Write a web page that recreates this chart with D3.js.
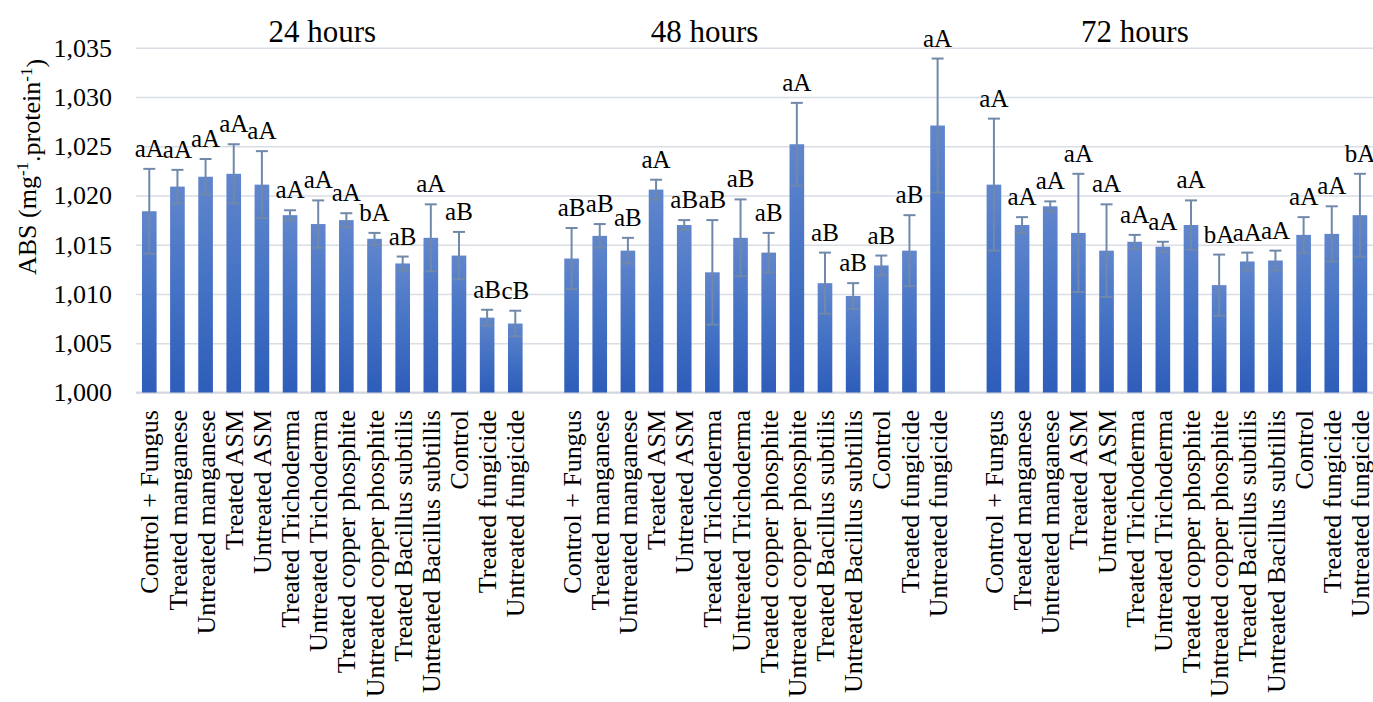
<!DOCTYPE html>
<html>
<head>
<meta charset="utf-8">
<script src="https://cdn.jsdelivr.net/npm/d3@7"></script>
<style>
  body { margin: 0; background: #fff; }
  svg { display: block; }
  svg text { font-family: "Liberation Serif", "Times New Roman", Tinos, "DejaVu Serif", serif; }
</style>
</head>
<body>
<svg width="1373" height="702"></svg>
<script>
const hours = ['24 hours', '48 hours', '72 hours'];
const treatments = [
  'Control + Fungus', 'Treated manganese', 'Untreated manganese', 'Treated ASM',
  'Untreated ASM', 'Treated Trichoderma', 'Untreated Trichoderma',
  'Treated copper phosphite', 'Untreated copper phosphite', 'Treated Bacillus subtilis',
  'Untreated Bacillus subtillis', 'Control', 'Treated fungicide', 'Untreated fungicide'
];

const values24 = [1.0184, 1.0209, 1.0219, 1.0222, 1.0211, 1.0180, 1.0171, 1.0175, 1.0156, 1.0131, 1.0157, 1.0139, 1.0076, 1.0070];
const errors24 = [0.0043, 0.0017, 0.0018, 0.0030, 0.0034, 0.0005, 0.0024, 0.0007, 0.0006, 0.0007, 0.0034, 0.0024, 0.0008, 0.0013];
const letters24 = ['aA', 'aA', 'aA', 'aA', 'aA', 'aA', 'aA', 'aA', 'bA', 'aB', 'aA', 'aB', 'aB', 'cB'];

const values48 = [1.0136, 1.0159, 1.0144, 1.0206, 1.0170, 1.0122, 1.0157, 1.0142, 1.0252, 1.0111, 1.0098, 1.0129, 1.0144, 1.0271];
const errors48 = [0.0031, 0.0012, 0.0013, 0.0010, 0.0005, 0.0053, 0.0039, 0.0020, 0.0042, 0.0031, 0.0013, 0.0010, 0.0036, 0.0068];
const letters48 = ['aB', 'aB', 'aB', 'aA', 'aB', 'aB', 'aB', 'aB', 'aA', 'aB', 'aB', 'aB', 'aB', 'aA'];

const values72 = [1.0211, 1.0170, 1.0189, 1.0162, 1.0144, 1.0153, 1.0148, 1.0170, 1.0109, 1.0133, 1.0134, 1.0160, 1.0161, 1.0180];
const errors72 = [0.0067, 0.0008, 0.0005, 0.0060, 0.0047, 0.0007, 0.0005, 0.0025, 0.0031, 0.0009, 0.0010, 0.0018, 0.0028, 0.0042];
const letters72 = ['aA', 'aA', 'aA', 'aA', 'aA', 'aA', 'aA', 'aA', 'bA', 'aA', 'aA', 'aA', 'aA', 'bA'];

const yTicks = [1.000, 1.005, 1.010, 1.015, 1.020, 1.025, 1.030, 1.035];

const svg = d3.select('svg');

// flatten groups, with one empty slot between groups (like the Excel sheet)
const groups = [
  { values: values24, errors: errors24, letters: letters24 },
  { values: values48, errors: errors48, letters: letters48 },
  { values: values72, errors: errors72, letters: letters72 }
];
const slots = [];
const data = [];
groups.forEach((g, gi) => {
  if (gi > 0) slots.push('gap' + gi);
  treatments.forEach((t, i) => {
    const key = gi + '|' + i;
    slots.push(key);
    data.push({ key, group: gi, name: t, value: g.values[i], err: g.errors[i], letter: g.letters[i] });
  });
});

const xScale = d3.scaleBand()
  .domain(slots)
  .range([135.2, 1374])
  .paddingInner(0.48)
  .paddingOuter(0.24);

const yScale = d3.scaleLinear()
  .domain([1.000, 1.035])
  .range([392.5, 47.7]);

const locale = d3.formatLocale({ decimal: ',', thousands: '.', grouping: [3], currency: ['', ''] });
const fmt = locale.format('.3f');

const defs = svg.append('defs');
const grad = defs.append('linearGradient')
  .attr('id', 'barGrad')
  .attr('x1', 0).attr('y1', 0).attr('x2', 0).attr('y2', 1);
grad.append('stop').attr('offset', '0%').attr('stop-color', '#6186cd');
grad.append('stop').attr('offset', '50%').attr('stop-color', '#4472c4');
grad.append('stop').attr('offset', '100%').attr('stop-color', '#2e5dba');

// gridlines
const yAxis = d3.axisLeft(yScale)
  .tickValues(yTicks)
  .tickSize(-(1373 - 136))
  .tickPadding(24)
  .tickFormat(fmt);

const yAxisG = svg.append('g')
  .attr('transform', 'translate(136,0)')
  .call(yAxis)
  .attr('font-family', null);
yAxisG.select('.domain').remove();
yAxisG.selectAll('.tick line')
  .attr('stroke', '#d9dde4')
  .attr('stroke-width', 1.5);
yAxisG.selectAll('.tick text')
  .attr('font-size', 26)
  .attr('fill', '#000');

// baseline
svg.append('line')
  .attr('x1', 136).attr('x2', 1373)
  .attr('y1', yScale(1.000)).attr('y2', yScale(1.000))
  .attr('stroke', '#d4d8de')
  .attr('stroke-width', 2);

// bars
const bars = svg.append('g');
bars.selectAll('rect').data(data)
  .enter().append('rect')
    .attr('x', d => xScale(d.key))
    .attr('y', d => yScale(d.value))
    .attr('width', xScale.bandwidth())
    .attr('height', d => yScale(1.000) - yScale(d.value))
    .attr('fill', 'url(#barGrad)');

// error bars
const capW = 12;
const errG = svg.append('g')
  .attr('stroke', '#7089aa')
  .attr('stroke-width', 2)
  .attr('fill', 'none');
data.forEach(d => {
  const cx = xScale(d.key) + xScale.bandwidth() / 2;
  const top = yScale(d.value + d.err);
  const bot = yScale(d.value - d.err);
  errG.append('line').attr('x1', cx).attr('x2', cx).attr('y1', top).attr('y2', bot);
  errG.append('line').attr('x1', cx - capW / 2).attr('x2', cx + capW / 2).attr('y1', top).attr('y2', top);
  errG.append('line').attr('x1', cx - capW / 2).attr('x2', cx + capW / 2).attr('y1', bot).attr('y2', bot);
});

// letters above error bars
svg.append('g').selectAll('text').data(data)
  .enter().append('text')
    .attr('x', d => xScale(d.key) + xScale.bandwidth() / 2)
    .attr('y', d => yScale(d.value + d.err) - 12)
    .attr('text-anchor', 'middle')
    .attr('font-size', 25)
    .attr('fill', '#000')
    .text(d => d.letter);

// category labels
svg.append('g').selectAll('text').data(data)
  .enter().append('text')
    .attr('transform', d => `translate(${xScale(d.key) + xScale.bandwidth() / 2},410) rotate(-90)`)
    .attr('text-anchor', 'end')
    .attr('dy', '0.35em')
    .attr('font-size', 26)
    .attr('fill', '#000')
    .text(d => d.name);

// group titles
const titleShift = [-10, -50, -42];
hours.forEach((h, gi) => {
  const first = xScale(gi + '|0');
  const last = xScale(gi + '|' + (treatments.length - 1)) + xScale.bandwidth();
  svg.append('text')
    .attr('x', (first + last) / 2 + titleShift[gi])
    .attr('y', 42)
    .attr('text-anchor', 'middle')
    .attr('font-size', 31)
    .attr('fill', '#000')
    .text(h);
});

// y axis title
const yTitle = svg.append('text')
  .attr('transform', 'translate(36,167) rotate(-90)')
  .attr('text-anchor', 'middle')
  .attr('font-size', 26)
  .attr('fill', '#000');
yTitle.append('tspan').text('ABS (mg');
yTitle.append('tspan').attr('dy', '-0.45em').attr('font-size', 17).text('-1');
yTitle.append('tspan').attr('dy', '0.45em').text('.protein');
yTitle.append('tspan').attr('dy', '-0.45em').attr('font-size', 17).text('-1');
yTitle.append('tspan').attr('dy', '0.45em').text(')');
</script>
</body>
</html>
